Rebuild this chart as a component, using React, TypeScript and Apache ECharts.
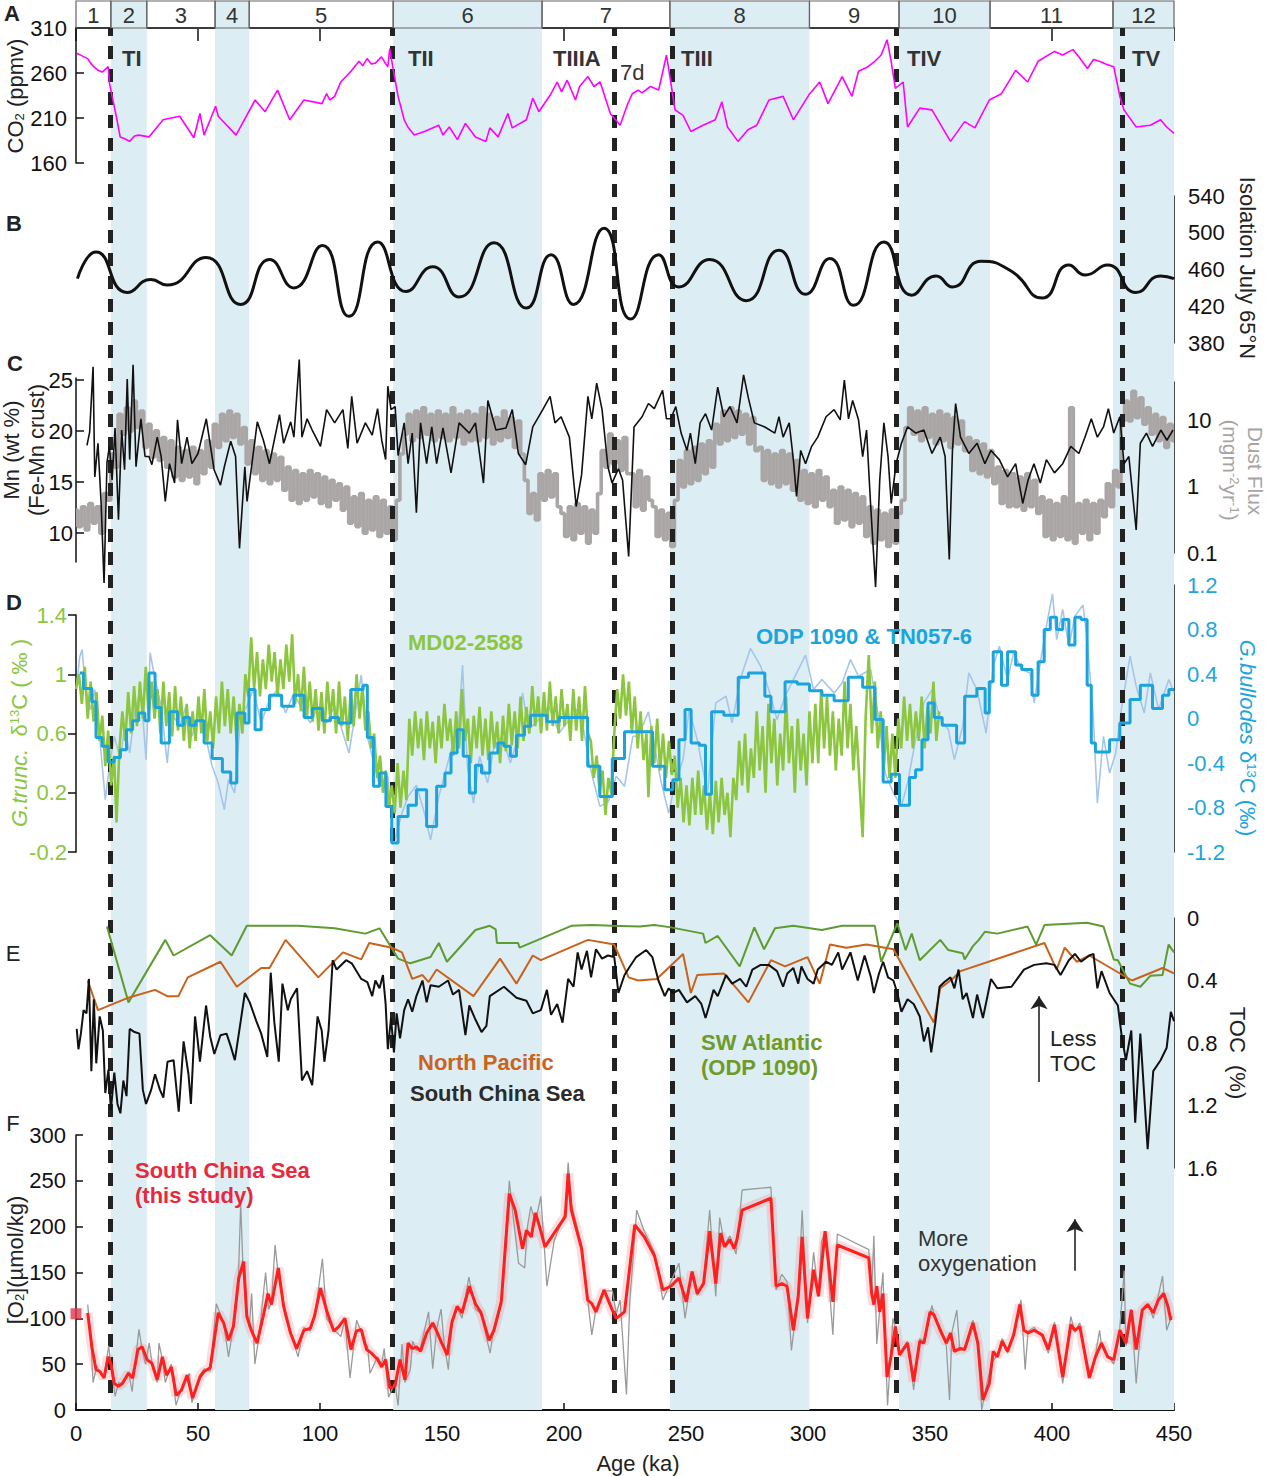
import React, { useEffect, useRef } from 'react';
import * as echarts from 'echarts';

const FONT = "'Liberation Sans', Arial, sans-serif";

// ---------- Marine isotope stages (ka) ----------
const stageBounds: number[][] = [
  [0, 14.3], [14.3, 29], [29, 57], [57, 71], [71, 130], [130, 191],
  [191, 243.4], [243.4, 300.6], [300.6, 337.3], [337.3, 374.6], [374.6, 425], [425, 450],
];
const glacialStages: number[][] = [[14.3, 29], [57, 71], [130, 191], [243.4, 300.6], [337.3, 374.6], [425, 450]];
const terminationAges: number[] = [14, 129.6, 220.6, 244.3, 336, 428.6];

// ---------- A: CO2 (ppmv) ----------
const co2: number[][] = [
  [0.3,282],[2.5,279],[4.8,276],[6,271],[7.3,267],[9,263],[10.7,261],[12,264],[13.2,267],[13.7,249],[14.8,234],[16.5,212],[18.1,189],[20,187],[22,184],[24,190],[25.7,191],[29.9,189],[35.7,208],[42.5,212],[48.3,188],[50.8,215],[52.5,191],[57.2,223],[58.3,212],[65.6,191],[73.4,230],[77.5,217],[82.6,241],[87.6,208],[93.4,230],[100.8,226],[102.7,237],[104,230],[106,234],[108.5,250],[112.7,262],[116,273],[117.5,268],[119.3,276],[121,270],[122.7,271],[125.2,278],[126.5,272],[127.8,267],[128.6,287],[129.8,267],[132,234],[134.5,208],[136,200],[138.6,191],[142.8,195],[148.7,202],[150.4,191],[153,200],[156.3,186],[159.6,204],[163.7,189],[168,184],[169.6,199],[173,189],[177,215],[178.8,199],[184.6,208],[187.2,232],[189.7,217],[194.7,237],[197.2,250],[199,239],[201.3,252],[204.7,230],[206.4,245],[209.8,256],[212.3,245],[214.8,250],[219,215],[223,202],[226,225],[228,237],[230.4,241],[232,238],[235.4,245],[238.8,241],[242,280],[243.8,249],[245.5,219],[248.8,213],[252,195],[257,202],[262,208],[264.7,228],[267,200],[271.3,184],[275.4,197],[279,202],[284,230],[289.8,234],[294,208],[300.7,237],[304.8,250],[308.2,226],[314,256],[318,234],[320.7,262],[324,266],[327.4,273],[330,280],[332.4,297],[334,274],[335.8,243],[339,250],[340.8,200],[345.8,221],[350.8,219],[358.4,184],[364.2,206],[368.4,199],[374.3,230],[379.3,237],[385.1,263],[390,250],[394.3,273],[401,284],[404.4,280],[408.6,286],[411,278],[414.5,265],[417,275],[419.4,273],[422,270],[425.3,267],[427.8,234],[429.5,219],[434.5,200],[440.3,202],[444.5,208],[447,200],[450,193]
];

// ---------- B: insolation July 65N (W/m2) ----------
const insolation: number[][] = [
  [0.6,450],[8.2,479],[21,435],[30.7,449],[37.4,443],[53.3,473],[67.5,422],[79.3,471],[89.3,440],[101,486],[111.9,409],[123.6,490],[135.3,436],[146.2,463],[157,430],[171.3,489],[184.6,418],[194.7,476],[203.9,422],[216.4,505],[227.3,406],[238.8,476],[247.1,441],[259.7,471],[274.7,426],[288.1,481],[299,433],[309,472],[318.7,421],[331.1,490],[342.5,432],[352.5,453],[359.2,441],[370.9,469],[383.4,458],[396,429],[406.9,465],[413.6,454],[422.8,465],[434.4,435],[444.5,453],[450,450]
];

// ---------- C: Mn (wt %) of Fe-Mn crust ----------
const mnCrust: number[][] = [
  [4.5,18.6],[5.6,19.9],[7,26.3],[7.7,15.5],[9,18.8],[10.3,12.9],[11.5,5.1],[12.7,16.9],[13.7,18.5],[14.8,15.2],[16,20.3],[17.4,11.3],[18.7,20.1],[19.9,16.2],[21,25.1],[22,17.2],[23.4,26.5],[24.6,16.5],[26.6,21.2],[28.3,17.5],[29.9,17.5],[31.1,16.7],[33.3,19.4],[34.9,17.5],[36.6,13.1],[38.3,16.8],[40.4,14.9],[41.6,21.1],[43.3,16.8],[45.5,19.4],[47.5,16.8],[50,17.8],[53.4,21.2],[56.6,16.2],[59.2,14.7],[60.8,16.5],[63.4,19],[65.4,17.5],[67,8.5],[69.2,16.5],[70.1,13.1],[74.3,20.9],[76.8,19.1],[79.3,16.8],[83.4,21.6],[85.1,18.8],[88,20.9],[89.3,19.4],[91.5,27],[92.6,19.4],[94.7,21.2],[96.8,20.1],[100.2,18.5],[102.7,22.1],[106,20.8],[109.4,22.1],[111.4,18.3],[113,23.4],[115.2,18.8],[118.6,20.8],[121.4,19.6],[123.6,22.2],[125.3,19.1],[126.9,17.2],[127.8,24.4],[129.1,22.1],[130.8,22.4],[132,17.6],[134.5,20.8],[136.1,16.8],[137.8,19.8],[139.5,12],[141.2,20.8],[143.7,16.8],[145.8,20.4],[147.8,16.8],[150.4,20.3],[153.7,15.9],[157,20.8],[161.2,19.8],[163.7,20.8],[167,14.9],[168.8,23],[172.1,20.1],[176.2,20.3],[178.8,22.1],[181.3,17.8],[184.3,16.7],[187.2,20.4],[191.3,22.1],[194.3,23.4],[196.3,20.8],[198.8,21.4],[202.2,19.4],[205,12.6],[207.2,15.7],[209.8,23.4],[211.4,21.2],[213.4,24.7],[215.6,22.1],[218,16.5],[219.7,14.9],[222.3,16.3],[224,15.2],[226.5,7.7],[228.7,20.4],[232,21.4],[234.6,22.7],[237,22.2],[240.4,24],[242,21.2],[243.8,21.2],[245.8,22.4],[248,19.8],[250.4,18.1],[251.8,19.8],[253.8,16.8],[255.8,20.8],[258,21.7],[260.5,20.1],[263,24.3],[265.5,21.4],[268,22.4],[270.9,20.8],[273.6,25.5],[275.6,23.2],[278,20.8],[282.3,20.4],[286.4,19.8],[288.1,21.4],[289.8,19.4],[292.3,20.8],[294,17.2],[295.3,13.6],[297,18.1],[299,16.8],[301.5,18.5],[304,19.4],[307.4,21.4],[310.7,22.1],[313.2,21.1],[314.9,25],[316.6,21.2],[318.3,23],[320.7,21.1],[322.4,17.5],[324,20.1],[325.7,12.6],[327.7,4.7],[329.4,15.2],[331.1,20.8],[332.8,17.5],[334.1,12.9],[336.1,16.8],[338.3,18.8],[340.8,20.4],[344.2,19.8],[347.5,20.1],[350.8,17.8],[354.2,19.4],[356.2,17.5],[357.9,7.4],[359.2,18.1],[360.5,22.7],[362.5,19.4],[365.9,17.8],[369.3,18.8],[372.5,16.8],[375,18.1],[378.4,17.2],[381.8,15.5],[385.1,16.8],[388,12.9],[390.2,15.2],[392.6,16.8],[395.2,14.9],[397.7,17.2],[401,15.9],[404.4,16.8],[407.7,18.5],[411,17.8],[413.5,19.4],[416.1,21.2],[418.6,19.4],[421.1,20.4],[423.1,22.2],[425.3,19.8],[427.8,21.4],[429.5,16.8],[431.5,17.5],[434.5,10.3],[436.2,18.8],[438.7,19.8],[441.2,18.5],[444.6,20.1],[447.1,19.1],[449.6,20.1]
];

// ---------- C: dust flux, log10(mg m-2 yr-1) ----------
const dustFluxLog: number[][] = [
  [0,-0.35],[1.5,-0.6],[3,-0.3],[4.5,-0.65],[6,-0.25],[7.5,-0.55],[9,-0.3],[10.5,-0.7],[12,-0.1],[13.5,-0.2],[15,0.5],[16.5,0.3],[18,1.1],[19.5,0.8],[21,1.2],[22.5,0.85],[24,1.3],[25.5,0.9],[27,1.15],[28.5,0.6],[30,0.95],[31.5,0.45],[33,0.85],[34.5,0.4],[36,0.75],[37.5,0.3],[39,0.7],[40.5,0.15],[42,0.6],[43.5,0.1],[45,0.55],[46.5,0.15],[48,0.6],[49.5,0.05],[51,0.55],[52.5,0.2],[54,0.7],[55.5,0.3],[57,0.95],[58.5,0.6],[60,1.1],[61.5,0.7],[63,1.15],[64.5,0.75],[66,1.1],[67.5,0.65],[69,0.9],[70.5,0.35],[72,0.7],[73.5,0.2],[75,0.6],[76.5,0.1],[78,0.55],[79.5,0.05],[81,0.5],[82.5,0.1],[84,0.45],[85.5,-0.05],[87,0.3],[88.5,-0.2],[90,0.25],[91.5,-0.25],[93,0.2],[94.5,-0.2],[96,0.25],[97.5,-0.15],[99,0.2],[100.5,-0.25],[102,0.15],[103.5,-0.3],[105,0.1],[106.5,-0.2],[108,0.05],[109.5,-0.35],[111,0],[112.5,-0.55],[114,-0.15],[115.5,-0.6],[117,-0.1],[118.5,-0.7],[120,-0.2],[121.5,-0.65],[123,-0.15],[124.5,-0.75],[126,-0.2],[127.5,-0.7],[129,-0.3],[130.5,-0.8],[132,-0.2],[133.5,0.5],[135,0.8],[136.5,1.1],[138,0.7],[139.5,1.15],[141,0.75],[142.5,1.2],[144,0.8],[145.5,1.1],[147,0.7],[148.5,1.15],[150,0.75],[151.5,1.1],[153,0.7],[154.5,1.2],[156,0.75],[157.5,1.1],[159,0.65],[160.5,1.15],[162,0.7],[163.5,1.1],[165,0.7],[166.5,1.2],[168,0.75],[169.5,1.1],[171,0.65],[172.5,1.05],[174,0.7],[175.5,1.15],[177,0.75],[178.5,1.05],[180,0.6],[181.5,1],[183,0.5],[184.5,0.1],[186,-0.4],[187.5,-0.1],[189,-0.5],[190.5,0.2],[192,-0.2],[193.5,0.25],[195,-0.15],[196.5,0.2],[198,-0.3],[199.5,-0.4],[201,-0.75],[202.5,-0.3],[204,-0.8],[205.5,-0.25],[207,-0.7],[208.5,-0.3],[210,-0.85],[211.5,-0.35],[213,-0.7],[214.5,-0.1],[216,0.55],[217.5,0.3],[219,0.8],[220.5,0.35],[222,0.7],[223.5,0.25],[225,0.75],[226.5,0.2],[228,0.2],[229.5,-0.3],[231,0.25],[232.5,-0.35],[234,0.15],[235.5,-0.2],[237,-0.3],[238.5,-0.75],[240,-0.35],[241.5,-0.8],[243,-0.4],[244.5,-0.9],[246,-0.2],[247.5,0.4],[249,0],[250.5,0.55],[252,0.05],[253.5,0.6],[255,0.1],[256.5,0.65],[258,0.2],[259.5,0.7],[261,0.3],[262.5,0.95],[264,0.65],[265.5,1.15],[267,0.7],[268.5,1.2],[270,0.75],[271.5,1.15],[273,0.8],[274.5,1.1],[276,0.65],[277.5,1.05],[279,0.55],[280.5,0.6],[282,0.1],[283.5,0.55],[285,0.05],[286.5,0.5],[288,0],[289.5,0.55],[291,0.05],[292.5,0.5],[294,-0.05],[295.5,0.4],[297,-0.2],[298.5,0.25],[300,-0.25],[301.5,0.2],[303,-0.3],[304.5,0.25],[306,-0.2],[307.5,0.15],[309,-0.3],[310.5,-0.05],[312,-0.55],[313.5,0],[315,-0.5],[316.5,-0.05],[318,-0.6],[319.5,-0.1],[321,-0.55],[322.5,-0.15],[324,-0.75],[325.5,-0.3],[327,-0.85],[328.5,-0.35],[330,-0.8],[331.5,-0.4],[333,-0.9],[334.5,-0.35],[336,-0.85],[337.5,-0.4],[339,-0.2],[340.5,0.9],[342,1.2],[343.5,0.8],[345,1.15],[346.5,0.7],[348,1.2],[349.5,0.75],[351,1.1],[352.5,0.65],[354,1.15],[355.5,0.7],[357,1.1],[358.5,0.6],[360,1.05],[361.5,0.65],[363,1],[364.5,0.55],[366,0.75],[367.5,0.25],[369,0.7],[370.5,0.2],[372,0.65],[373.5,0.15],[375,0.55],[376.5,0.05],[378,0.3],[379.5,-0.25],[381,0.25],[382.5,-0.3],[384,0.2],[385.5,-0.3],[387,0.15],[388.5,-0.35],[390,0.2],[391.5,-0.3],[393,0.1],[394.5,-0.4],[396,-0.15],[397.5,-0.75],[399,-0.2],[400.5,-0.8],[402,-0.25],[403.5,-0.75],[405,-0.15],[406.5,-0.8],[408,1.2],[409.5,-0.85],[411,-0.25],[412.5,-0.7],[414,-0.2],[415.5,-0.8],[417,-0.25],[418.5,-0.7],[420,-0.2],[421.5,-0.45],[423,0.05],[424.5,-0.3],[426,0.25],[427.5,0],[429,1],[430.5,1.3],[432,1],[433.5,1.45],[435,1.05],[436.5,1.35],[438,0.95],[439.5,1.2],[441,0.8],[442.5,1.1],[444,0.7],[445.5,1.05],[447,0.6],[448.5,0.95],[450,0.7]
];

// ---------- D: G. truncatulinoides d13C (permil), MD02-2588 ----------
const gTrunc13C: number[][] = [
  [0,0.9],[1.2,1],[2.4,0.8],[3.6,1.05],[4.8,0.7],[6,0.95],[7.2,0.68],[8.4,0.88],[9.6,0.55],[10.8,0.72],[12,0.38],[13.2,0.62],[14.4,0.25],[15.6,0.45],[16.6,0],[17.8,0.5],[19,0.75],[20.2,0.55],[21.4,0.88],[22.6,0.6],[23.8,0.92],[25,0.65],[26.2,0.95],[27.4,0.7],[28.6,1.05],[29.8,0.72],[31,0.95],[32.2,0.7],[33.4,0.9],[34.6,0.6],[35.8,0.95],[37,0.65],[38.2,0.88],[39.4,0.58],[40.6,0.92],[41.8,0.62],[43,0.85],[44.2,0.55],[45.4,0.8],[46.6,0.5],[47.8,0.75],[49,0.55],[50.2,0.85],[51.4,0.6],[52.6,0.9],[53.8,0.55],[55,0.75],[56.2,0.5],[57.4,0.85],[58.6,0.6],[59.8,0.95],[61,0.65],[62.2,0.9],[63.4,0.6],[64.6,0.85],[65.8,0.55],[67,0.8],[68.2,0.6],[69.4,1],[70.6,0.85],[71.8,1.25],[73,0.9],[74.2,1.15],[75.4,0.85],[76.6,1.1],[77.8,0.9],[79,1.2],[80.2,0.95],[81.4,1.15],[82.6,0.85],[83.8,1.1],[85,0.9],[86.2,1.2],[87.4,0.95],[88.6,1.27],[89.8,0.8],[91,1],[92.2,0.75],[93.4,1.05],[94.6,0.7],[95.8,0.95],[97,0.68],[98.2,0.9],[99.4,0.62],[100.6,0.88],[101.8,0.6],[103,0.95],[104.2,0.7],[105.4,0.9],[106.6,0.6],[107.8,0.95],[109,0.65],[110.2,0.85],[111.4,0.55],[112.6,0.9],[113.8,0.65],[115,1],[116.2,0.7],[117.4,0.92],[118.6,0.62],[119.8,0.75],[121,0.5],[122.2,0.6],[123.4,0.3],[124.6,0.45],[125.8,0.2],[127,0.35],[128.2,0.1],[129.4,0.25],[130.6,0.06],[131.8,0.4],[133,0.1],[134.2,0.35],[135.4,0.15],[136.6,0.7],[137.8,0.45],[139,0.75],[140.2,0.5],[141.4,0.7],[142.6,0.42],[143.8,0.75],[145,0.5],[146.2,0.68],[147.4,0.4],[148.6,0.72],[149.8,0.5],[151,0.8],[152.2,0.55],[153.4,0.7],[154.6,0.45],[155.8,0.75],[157,0.5],[158.2,0.9],[159.4,0.55],[160.6,0.7],[161.8,0.4],[163,0.72],[164.2,0.5],[165.4,0.78],[166.6,0.45],[167.8,0.7],[169,0.42],[170.2,0.75],[171.4,0.5],[172.6,0.68],[173.8,0.4],[175,0.72],[176.2,0.48],[177.4,0.8],[178.6,0.52],[179.8,0.75],[181,0.5],[182.2,0.85],[183.4,0.55],[184.6,0.78],[185.8,0.6],[187,0.92],[188.2,0.65],[189.4,0.85],[190.6,0.6],[191.8,0.88],[193,0.62],[194.2,0.95],[195.4,0.65],[196.6,0.85],[197.8,0.6],[199,0.9],[200.2,0.65],[201.4,0.8],[202.6,0.55],[203.8,0.9],[205,0.62],[206.2,0.85],[207.4,0.55],[208.6,0.92],[209.8,0.6],[211,0.55],[212.2,0.3],[213.4,0.45],[214.6,0.2],[215.8,0.35],[217,0.05],[218.2,0.3],[219.4,0.2],[220.6,0.6],[221.8,0.9],[223,0.7],[224.2,1],[225.4,0.72],[226.6,0.95],[227.8,0.6],[229,0.85],[230.2,0.5],[231.4,0.75],[232.6,0.42],[233.8,0.6],[234.6,0.17],[235.8,0.65],[237,0.4],[238.2,0.7],[239.4,0.35],[240.6,0.6],[241.8,0.3],[243,0.55],[244.2,0.32],[245.4,0.45],[246.6,0.1],[247.8,0.3],[249,0],[250.2,0.25],[251.4,-0.02],[252.6,0.3],[253.8,0.05],[255,0.35],[256.2,0.05],[257.4,0.25],[258.6,-0.05],[259.8,0.2],[261,-0.08],[262.2,0.28],[263.4,0],[264.6,0.3],[265.8,0.05],[267,0.2],[268.2,-0.1],[269.4,0.3],[270.6,0.15],[271.8,0.55],[273,0.25],[274.2,0.6],[275.4,0.2],[276.6,0.5],[277.8,0.3],[279,0.75],[280.2,0.35],[281.4,0.65],[282.6,0.2],[283.8,0.8],[285,0.4],[286.2,0.7],[287.4,0.25],[288.6,0.6],[289.8,0.35],[291,0.85],[292.2,0.4],[293.4,0.65],[294.6,0.2],[295.8,0.7],[297,0.35],[298.2,0.6],[299.4,0.25],[300.6,0.75],[301.8,0.4],[303,0.8],[304.2,0.4],[305.4,0.9],[306.6,0.5],[307.8,0.85],[309,0.45],[310.2,0.75],[311.4,0.35],[312.6,0.7],[313.8,0.45],[315,0.95],[316.2,0.5],[317.4,0.8],[318.6,0.35],[319.8,0.65],[321,0.3],[322.4,-0.1],[323.6,0.7],[324.9,1.13],[326.2,0.6],[327.4,0.95],[328.6,0.5],[329.8,0.75],[331,0.35],[332.2,0.65],[333.4,0.3],[334.6,0.6],[335.8,0.3],[337,0.7],[338.2,0.5],[339.4,0.85],[340.6,0.55],[341.8,0.8],[343,0.5],[344.2,0.75],[345.4,0.55],[346.6,0.85],[347.8,0.5],[349,0.78],[350.2,0.6],[351.4,0.95],[352.6,0.55],[353.8,0.75]
];

// ---------- D: G. bulloides d13C (permil), ODP 1090 & TN057-6 ----------
const gBullRaw13C: number[][] = [
  [0.3,0.3],[1.5,0.55],[2.5,0.62],[4,0.26],[6,0.08],[7.7,0.26],[9.8,-0.19],[12,-0.73],[13.7,-0.43],[15.7,-0.16],[18.2,-0.37],[19.9,-0.07],[22,-0.31],[24,0.05],[26.6,0.26],[28.7,-0.37],[30.4,0.59],[32.4,0.35],[34.9,0.11],[37.4,-0.4],[39.1,0.05],[42.5,-0.07],[45,0.11],[47.5,-0.16],[50.8,0.06],[53.4,-0.19],[55.8,-0.43],[58.3,-0.58],[60.8,-0.82],[62.5,-0.55],[65,-0.67],[67.5,0.02],[70,0.11],[72.6,0.26],[75.9,-0.04],[79.3,0.17],[82.6,0.26],[85.9,0.05],[89.3,0.23],[92.6,0.08],[96,-0.04],[99.3,0.11],[102.7,-0.04],[106,0.11],[111.9,-0.31],[116.9,0.39],[119.4,-0.16],[124.4,-0.61],[127.8,-0.52],[130.3,-1.12],[133.6,-0.85],[136.1,-0.7],[139.5,-0.6],[142.8,-0.85],[145.3,-1.09],[148.7,-0.7],[152,-0.43],[154.5,-0.22],[157,-0.01],[158.4,0.48],[160.4,-0.43],[162.9,-0.76],[165.4,-0.34],[168.7,-0.58],[171.3,-0.25],[174.6,-0.16],[178,-0.4],[181.3,-0.16],[183,0.23],[185.5,-0.1],[189.7,-0.01],[193.8,0.11],[198,-0.13],[202.2,-0.01],[206.4,0.11],[210.6,-0.43],[214.7,-0.79],[218.1,-0.75],[221.4,-0.52],[224.8,-0.61],[228.2,-0.16],[230.4,-0.16],[234.6,0.06],[239.6,-0.55],[242.9,-0.85],[245.5,-0.58],[248.8,-0.37],[251.3,0.08],[254.6,-0.19],[258.8,-0.67],[262.2,0.14],[266.4,0.2],[268.9,-0.04],[272.2,0.35],[276.4,0.63],[280.6,0.47],[283.9,0.26],[287.3,-0.01],[290.6,0.2],[294,0.35],[299,0.57],[302.3,0.26],[305.7,0.35],[310.7,0.23],[314,0.32],[317.4,0.53],[320.7,0.38],[325.7,0.44],[329.1,-0.01],[331.6,-0.49],[335,-0.67],[338.3,-0.79],[340.8,-0.58],[344.1,-0.19],[347.5,0.14],[350.9,0.26],[354.2,-0.01],[357.5,-0.1],[360,-0.37],[363.4,-0.07],[365.9,0.41],[369.2,0.26],[373,-0.13],[375.9,0.47],[378.4,0.65],[381.8,0.35],[384.3,0.59],[387.6,0.44],[391,0.41],[392.7,0.14],[395.2,0.5],[397.7,0.83],[400.2,1.12],[401.9,0.71],[404.4,0.98],[406.9,0.65],[409.4,0.92],[412.7,1.02],[414.4,0.71],[416.9,0.02],[418.6,-0.76],[421.1,-0.16],[423.6,-0.49],[426.1,-0.31],[428.6,0.11],[432,0.56],[434.5,0.29],[437.8,0.05],[440.3,0.41],[443.7,0.08],[447.9,0.35],[450,0.23]
];
const gBullSmooth13C: number[][] = [
  [1.5,0.41],[3.1,0.27],[6.5,0.15],[8.2,-0.17],[10.7,-0.25],[13.2,-0.39],[15.7,-0.35],[18.2,-0.28],[20.7,-0.1],[23.2,-0.02],[25.7,0.05],[28.2,-0.02],[29.9,0.41],[32.4,0.1],[34.9,-0.22],[38.3,0.06],[41.6,-0.06],[44.1,0.01],[46.6,-0.06],[49.1,-0.02],[52.5,-0.22],[55.8,-0.36],[60,-0.48],[63.4,-0.58],[65.9,0.05],[69.2,-0.04],[70.9,0.26],[73.4,-0.1],[75.9,0.08],[79.3,0.21],[84.3,0.11],[89.3,0.21],[93.5,0.01],[96.8,0.09],[101,-0.02],[104.3,0.01],[107.7,-0.04],[112.7,0.26],[117.7,0.3],[119.4,-0.17],[121.9,-0.61],[124.4,-0.49],[127,-0.79],[129.4,-1.12],[132,-0.88],[136.1,-0.78],[139.5,-0.64],[143.7,-0.97],[147.8,-0.61],[151.2,-0.49],[153.7,-0.31],[156.2,-0.1],[158.7,-0.34],[161.2,-0.67],[163.7,-0.42],[166.2,-0.49],[169.6,-0.31],[172.9,-0.22],[175.4,-0.25],[178,-0.34],[180.5,-0.15],[183.8,-0.07],[186.3,0.03],[193,-0.03],[198,0.01],[209.7,-0.43],[214.7,-0.7],[219.8,-0.36],[224.8,-0.12],[236.3,-0.43],[241.3,-0.64],[244.6,-0.55],[247.1,-0.19],[249.6,0.08],[252.1,-0.22],[255.5,-0.24],[258,-0.68],[260.5,0.06],[265.5,0.03],[271.4,0.37],[275.6,0.41],[282.3,0.2],[284.8,0.06],[290.6,0.33],[295.6,0.31],[300.6,0.25],[305.7,0.21],[310.7,0.16],[316.5,0.37],[322.4,0.28],[327.4,-0.01],[330.8,-0.57],[334.1,-0.5],[337.5,-0.78],[341.6,-0.53],[344.1,-0.46],[346.7,-0.19],[349.2,0.14],[351.7,0.01],[355,-0.06],[360.9,-0.22],[364.2,0.2],[369.2,0.27],[372.6,0.05],[374.3,0.33],[375.9,0.6],[379.3,0.3],[381.8,0.6],[385.1,0.48],[387.6,0.44],[391.8,0.21],[394.3,0.51],[396.8,0.8],[399.3,0.91],[401.9,0.8],[404.4,0.89],[406.9,0.66],[409.4,0.91],[411.9,0.89],[414.4,0.3],[416.1,-0.22],[417.8,-0.3],[423.6,-0.19],[427.8,-0.04],[432,0.17],[436.2,0.3],[441.2,0.09],[445.3,0.21],[447.9,0.26],[450,0.26]
];

// ---------- E: TOC (%) ----------
const tocSWAtlantic: number[][] = [
  [12.7,0.055],[21.5,0.54],[36.6,0.14],[40,0.24],[55,0.11],[63.8,0.24],[70,0.05],[91,0.05],[106,0.066],[118.6,0.1],[124.4,0.066],[132,0.26],[137,0.29],[145.3,0.25],[148.7,0.16],[152,0.28],[163.7,0.077],[169.6,0.05],[172,0.073],[172.5,0.16],[181.2,0.16],[181.8,0.19],[203,0.05],[211.4,0.045],[219.8,0.05],[231,0.055],[237,0.045],[243.8,0.06],[257,0.1],[258,0.16],[263,0.115],[272,0.31],[278,0.06],[282,0.2],[286.5,0.066],[294,0.05],[305.6,0.077],[314,0.05],[327.4,0.05],[330,0.28],[336.6,0.034],[340,0.205],[342.5,0.1],[345.8,0.27],[354.2,0.14],[357.5,0.205],[363.4,0.225],[364.2,0.265],[367.6,0.18],[370,0.14],[372.5,0.088],[377.6,0.1],[390,0.055],[393.5,0.17],[396.9,0.045],[414.3,0.03],[421.1,0.055],[425.3,0.265],[427,0.27],[432,0.42],[436.2,0.44],[440.3,0.37],[445.3,0.365],[447.8,0.17],[450,0.22]
];
const tocNorthPacific: number[][] = [
  [4.8,0.4],[9,0.59],[21.5,0.51],[32.4,0.46],[37.4,0.5],[42,0.5],[45.8,0.38],[59.2,0.28],[65.9,0.44],[75.9,0.32],[79.3,0.32],[85.9,0.14],[99.3,0.38],[109.4,0.22],[116.9,0.265],[120.2,0.16],[129.4,0.19],[133.6,0.22],[137.8,0.39],[142,0.365],[144.5,0.41],[147.8,0.33],[162.9,0.5],[173.8,0.26],[180.5,0.42],[187.2,0.24],[190.5,0.27],[209.8,0.14],[220.6,0.17],[226.5,0.38],[230.4,0.4],[238,0.39],[248.8,0.23],[252,0.48],[254.6,0.365],[265.5,0.355],[275.6,0.54],[284.8,0.27],[290.6,0.31],[299.8,0.25],[304.8,0.42],[309,0.17],[315.7,0.19],[324,0.17],[335,0.2],[351.6,0.67],[354.2,0.45],[359.2,0.39],[362.5,0.34],[396.9,0.16],[401.9,0.33],[405.2,0.19],[410.2,0.28],[415.3,0.24],[432.8,0.4],[445.3,0.32],[450,0.355]
];
const tocSouthChinaSea: number[][] = [
  [0.3,0.71],[1,0.84],[2,0.74],[3.1,0.59],[4.3,0.61],[5.3,0.39],[6.3,0.98],[7.3,0.52],[8.3,0.93],[9.7,0.63],[11,0.72],[12,1.12],[13.3,0.97],[14.3,1.23],[15.7,0.99],[17,1.19],[18.2,1.25],[19.4,1.04],[20.7,1.14],[22,0.71],[24,0.73],[26,0.74],[27.4,1.1],[28.7,1.19],[30.8,1.1],[32.4,1],[34.4,1.1],[35.8,1.15],[37.5,0.92],[40,0.91],[42.1,1.24],[44.1,0.79],[46.1,1],[47.1,1.19],[48.8,0.63],[50.8,0.92],[53.3,0.56],[55,0.76],[56.7,0.87],[59.2,0.75],[61.7,0.74],[63.4,0.82],[65.1,0.91],[67.5,0.66],[69.2,0.48],[71.2,0.54],[73.9,0.66],[75.9,0.74],[78.4,0.89],[79.8,0.35],[81.3,0.67],[83.1,0.92],[84.6,0.42],[86.8,0.59],[88,0.52],[90.6,0.45],[92.6,1.04],[94.7,0.98],[96.8,1.07],[99,0.63],[100.7,0.72],[101.8,0.92],[103.5,0.72],[105.2,0.27],[106.8,0.33],[110.7,0.27],[113,0.29],[116.9,0.39],[119.4,0.41],[121.4,0.5],[122.7,0.4],[124.4,0.45],[125.8,0.365],[126.9,0.55],[127.8,0.84],[129.1,0.64],[130.3,0.86],[131.4,0.61],[132.8,0.77],[134.5,0.59],[136.1,0.52],[137.8,0.6],[139.5,0.5],[142,0.4],[143.7,0.54],[145.3,0.43],[148.7,0.44],[152.5,0.4],[154.5,0.49],[157,0.46],[159.6,0.75],[161.2,0.56],[163.7,0.65],[166.2,0.73],[168.2,0.69],[169.6,0.5],[175.4,0.44],[180.5,0.51],[184.6,0.53],[187.2,0.61],[190.5,0.59],[193,0.46],[194.7,0.62],[197.2,0.55],[199.4,0.67],[201.7,0.39],[203.9,0.44],[205.6,0.22],[207.2,0.33],[209.4,0.21],[211.1,0.38],[213.1,0.2],[215.6,0.26],[218,0.24],[220.6,0.25],[222.3,0.48],[224.8,0.365],[227,0.31],[229.6,0.25],[233.7,0.205],[236.2,0.25],[238.7,0.4],[241.3,0.5],[242.9,0.45],[244.7,0.48],[247.1,0.46],[250.4,0.54],[253.8,0.5],[256.3,0.55],[258,0.64],[259.7,0.55],[261.3,0.46],[263,0.5],[266.4,0.365],[268.9,0.42],[272.2,0.39],[274.7,0.44],[277.2,0.33],[280.6,0.3],[283.9,0.3],[287.3,0.34],[289.8,0.44],[291.5,0.355],[294,0.32],[296,0.42],[297.3,0.31],[299.8,0.39],[302.3,0.42],[304,0.33],[307.4,0.28],[309.8,0.3],[312.4,0.22],[314,0.33],[317.4,0.22],[320.4,0.4],[323.2,0.24],[325.8,0.38],[327,0.48],[329.1,0.355],[330.8,0.28],[332.8,0.38],[335,0.4],[336.6,0.48],[338.3,0.6],[340.8,0.52],[343.3,0.55],[345.8,0.63],[347.5,0.79],[349.2,0.7],[350.5,0.86],[352.2,0.67],[353.9,0.44],[355.9,0.41],[358.4,0.38],[360,0.45],[361.7,0.33],[363.4,0.52],[365,0.48],[367.6,0.64],[369.3,0.49],[371.7,0.64],[375,0.39],[377.6,0.45],[383.4,0.44],[388.5,0.33],[392.7,0.3],[397.7,0.29],[401,0.3],[403.5,0.365],[406.9,0.27],[409.4,0.23],[411.9,0.28],[415.3,0.24],[417,0.23],[418.6,0.45],[420.3,0.34],[423.6,0.48],[427,0.56],[428.6,0.76],[430.3,0.91],[432.5,0.72],[434.1,1.31],[436.2,0.74],[439.2,1.48],[441.5,0.98],[444.5,0.91],[447,0.83],[448.7,0.6],[450,0.66]
];

// ---------- F: [O2] (umol/kg), South China Sea ----------
const o2Smooth: number[][] = [
  [4.8,106],[6.5,69],[8.2,44],[9.8,42],[11.5,35],[13.2,58],[14.4,49],[15.7,29],[17.4,26],[19,29],[21.5,40],[23.2,35],[24,46],[25.4,66],[27.1,69],[29.1,55],[31.1,51],[33.3,33],[35.4,58],[37.1,38],[39.1,47],[41.1,16],[43.3,22],[45.5,38],[47.8,13],[50.8,36],[52.5,42],[55,46],[58.3,106],[60.5,95],[62.5,76],[64.5,91],[66.7,144],[68.7,162],[70,102],[72,86],[74.2,73],[76.7,102],[78.7,127],[80.1,115],[82.9,155],[85.1,113],[87.9,84],[90.4,67],[93.4,87],[96,89],[97.7,102],[100.2,133],[103,106],[105.7,86],[107.7,91],[110.2,100],[112.7,66],[114.9,86],[116.9,88],[119.1,66],[121.1,62],[123.6,55],[125.3,47],[126.9,55],[128.6,24],[130.7,26],[132.8,55],[134.8,33],[136.1,73],[137.8,67],[139.5,69],[141.2,64],[143.7,84],[146.2,95],[147.8,86],[149.9,73],[152.1,60],[154.1,96],[156.2,113],[158.2,106],[161.2,135],[163.7,116],[166,106],[169.3,76],[171.3,87],[174.3,118],[177.6,236],[180,218],[183,176],[184.6,196],[186.6,189],[188.3,215],[190,200],[192.2,178],[200.5,211],[201.7,258],[203,218],[207.2,176],[209.7,120],[211.4,116],[213.1,107],[216.4,131],[219.8,109],[221.4,100],[224.8,107],[229,202],[232.9,189],[237.1,168],[240.5,131],[243.8,135],[247.1,144],[250.1,118],[252.5,151],[254.6,127],[257.2,138],[259.7,195],[262.2,138],[264.2,193],[265.8,178],[268,186],[269.7,176],[270.9,186],[273,218],[284.8,231],[286.9,135],[289.3,138],[291.4,135],[294,87],[296,124],[297.6,189],[299.8,100],[302.3,153],[304.3,124],[307,195],[310.2,118],[312,180],[324.9,166],[326.1,127],[327,115],[328.2,135],[329.4,107],[330.7,127],[332.4,36],[334,58],[335.8,91],[337.5,60],[340.8,73],[343.3,31],[345.8,75],[347.5,73],[350,107],[351.6,104],[354.2,87],[356.7,73],[358.4,84],[360,64],[362.2,67],[364.2,66],[367.6,95],[369.6,73],[371.7,11],[374.3,29],[375.9,64],[377.6,58],[379.6,75],[381.8,64],[384.3,82],[386.8,115],[388.5,87],[390.2,84],[392.6,87],[396,82],[398.5,66],[401,93],[404.4,36],[407.7,93],[409.4,87],[411.4,91],[415.3,35],[417.8,58],[420.3,73],[422.8,58],[425.3,55],[427.8,87],[430.3,73],[432.5,109],[434.5,66],[437,109],[439.2,115],[441.5,106],[443.6,120],[445.8,127],[447.5,113],[448.7,98]
];
const o2Raw: number[][] = [
  [4.8,115],[6,80],[7,30],[8.5,48],[10,40],[11.5,36],[13.4,70],[14.5,45],[16,15],[17.5,30],[19,28],[21.5,42],[23,20],[24.2,50],[25.8,88],[27.1,66],[28.5,50],[30,73],[31.5,45],[33.3,30],[34,73],[35.4,55],[36.6,30],[39,50],[41,5],[43.3,25],[45.5,35],[46.5,40],[47.5,8],[50.8,38],[52.5,45],[55,42],[57.5,116],[60.5,95],[62.5,58],[64.5,90],[66.5,140],[67.5,225],[68.5,150],[69.5,120],[71,90],[72,127],[73.3,50],[75,80],[77.7,150],[79,110],[80.1,118],[81.6,180],[83,145],[85.9,100],[88,85],[91,58],[93.4,90],[96,86],[98,105],[101,165],[102.7,100],[105.7,88],[108.5,80],[110.2,98],[112.3,35],[115,98],[116.9,85],[118,72],[119.5,70],[120.5,40],[123.6,58],[125.3,50],[126.3,67],[128.1,14],[130.7,30],[132,5],[133.6,72],[134.8,30],[137,44],[138,75],[139.5,65],[141.2,68],[144.5,107],[146.2,45],[147.8,88],[149.6,110],[151,70],[152.6,44],[154.1,98],[156.2,112],[158.2,100],[161,145],[163.7,110],[166,105],[169.7,62],[171.3,90],[174.3,120],[177.6,250],[179,215],[181.4,160],[183.9,155],[185,200],[186.4,222],[188.3,205],[190.5,233],[192,175],[193,135],[196,185],[200.5,215],[201.7,270],[203,225],[207.2,180],[209.7,120],[211.4,82],[213.1,110],[216.4,130],[219.8,130],[221.4,105],[223,120],[225.6,17],[227,120],[229.8,218],[232.9,195],[237.1,172],[240.5,120],[243.8,140],[247.1,160],[249.6,100],[252.5,150],[254.6,125],[257.2,140],[259.7,218],[262.2,124],[263.8,210],[265.8,180],[268,190],[270.5,170],[273,240],[284.8,243],[286.9,131],[289.3,148],[291.4,140],[293.2,65],[296,125],[297.6,218],[299.8,95],[302.3,172],[304.3,125],[305.5,183],[307,195],[310.2,82],[312,192],[324.9,175],[326.1,130],[327,190],[328.2,72],[329.4,110],[330.7,150],[332.6,5],[334.8,100],[335.8,90],[337.5,62],[340.8,75],[343.3,22],[345.8,78],[347.5,75],[350.8,114],[352,100],[354.2,90],[356.7,70],[358,11],[359,85],[361,109],[362.2,65],[364.2,68],[367.6,98],[369.6,70],[371.2,0],[373,25],[375.2,51],[377.6,60],[379.6,78],[381.8,62],[384.3,85],[387.3,120],[389,44],[390.2,86],[392.6,90],[396,80],[398.5,62],[401,96],[404.4,29],[407.7,102],[409.4,85],[411.4,95],[413,70],[415.8,36],[417.8,60],[419.5,87],[420.3,70],[422.8,60],[425.3,50],[427.8,90],[429.6,152],[430.3,70],[432.5,110],[434.5,29],[437,110],[439.5,116],[441.5,100],[443.6,125],[445.3,146],[447,87],[448.7,100],[449.5,102]
];
const o2Modern: number[][] = [[0, 105]];

// ---------- tick values ----------
const co2Ticks = [160, 210, 260, 310];
const insolTicks = [380, 420, 460, 500, 540];
const mnTicks = [10, 15, 20, 25];
const dustTicks = [-1, 0, 1];
const gTruncTicks = [-0.2, 0.2, 0.6, 1, 1.4];
const gBullTicks = [-1.2, -0.8, -0.4, 0, 0.4, 0.8, 1.2];
const tocTicks = [0, 0.4, 0.8, 1.2, 1.6];

const LEFT = 76, WIDTH = 1098;
const grid = (top: number, height: number) => ({ left: LEFT, width: WIDTH, top, height });
const hiddenX = (g: number) => ({ type: 'value', gridIndex: g, min: 0, max: 450, show: false, axisLine: { onZero: false } });
const hiddenY = (g: number) => ({ type: 'value', gridIndex: g, min: 0, max: 1, show: false, axisLine: { onZero: false } });
const lbl = (color: string, margin: number, customValues?: number[]) => ({
  show: true, fontFamily: FONT, fontSize: 22, color, margin, ...(customValues ? { customValues } : {}),
});
const axLine = { show: true, onZero: false, lineStyle: { color: '#111', width: 1.5 } };
const tick = (inside: boolean, length: number, customValues?: number[]) => ({
  show: true, inside, length, lineStyle: { color: '#111', width: 1.5 }, ...(customValues ? { customValues } : {}),
});
const yAx = (g: number, pos: string, min: number, max: number, ticks: number[], inside: boolean, color: string, margin: number, extra: any = {}) => ({
  type: 'value', gridIndex: g, position: pos, min, max,
  axisLine: axLine, axisTick: tick(inside, 8, ticks), axisLabel: lbl(color, margin, ticks),
  splitLine: { show: false }, ...extra,
});

const line = (g: number, data: number[][], color: string, width: number, z: number, extra: any = {}) => ({
  type: 'line', xAxisIndex: g, yAxisIndex: g, data, showSymbol: false, symbol: 'none', silent: true,
  lineStyle: { color, width }, itemStyle: { color }, z, animation: false, ...extra,
});

type TOpt = { size?: number; weight?: string; color?: string; align?: string; rot?: number; rich?: any };
const T = (x: number, y: number, text: string, o: TOpt = {}) => ({
  type: 'text', x, y, rotation: o.rot || 0, z: 100, silent: true,
  style: {
    text, fontFamily: FONT, fontSize: o.size || 22, fontWeight: o.weight || 'normal',
    fill: o.color || '#222', align: o.align || 'left', verticalAlign: 'middle', rich: o.rich,
  },
});
const richSet = (color: string, size = 22) => ({
  n: { fontFamily: FONT, fontSize: size, fill: color },
  i: { fontFamily: FONT, fontSize: size, fill: color, fontStyle: 'italic' },
  s: { fontFamily: FONT, fontSize: 13, fill: color, verticalAlign: 'bottom' },
  p: { fontFamily: FONT, fontSize: 13, fill: color, verticalAlign: 'top' },
});

function buildOption(): any {
  const grids = [
    grid(1, 1409),   // 0 background shading
    grid(1, 27),     // 1 stage boxes
    grid(28, 135),   // 2 A
    grid(196, 147),  // 3 B
    grid(378, 184),  // 4 C Mn
    grid(382, 171),  // 5 C dust
    grid(615, 237),  // 6 D trunc
    grid(585, 267),  // 7 D bulloides
    grid(918, 250),  // 8 E
    grid(1135, 275), // 9 F
    grid(28, 1365),  // 10 dashed lines
  ];
  const xAxes: any[] = grids.map((_, i) => hiddenX(i));
  xAxes[2] = {
    type: 'value', gridIndex: 2, min: 0, max: 450, interval: 50, position: 'top',
    axisLine: { show: true, onZero: false, lineStyle: { color: '#111', width: 2 } },
    axisTick: { show: true, inside: true, length: 13, lineStyle: { color: '#111', width: 1.5 } },
    axisLabel: { show: false }, splitLine: { show: false },
  };
  xAxes[9] = {
    type: 'value', gridIndex: 9, min: 0, max: 450, interval: 50, position: 'bottom',
    axisLine: { show: true, onZero: false, lineStyle: { color: '#111', width: 2 } },
    axisTick: { show: true, inside: true, length: 7, lineStyle: { color: '#111', width: 1.5 } },
    axisLabel: lbl('#111', 12), splitLine: { show: false },
  };
  const yAxes: any[] = grids.map((_, i) => hiddenY(i));
  yAxes[2] = yAx(2, 'left', 160, 310, co2Ticks, true, '#111', 9);
  yAxes[3] = yAx(3, 'right', 380, 540, insolTicks, true, '#111', 14);
  yAxes[4] = yAx(4, 'left', 7.16, 25.2, mnTicks, true, '#111', 3);
  yAxes[5] = yAx(5, 'right', -1, 1.59, dustTicks, true, '#111', 13, {
    axisLabel: { ...lbl('#111', 13, dustTicks), formatter: (v: number) => String(Math.round(Math.pow(10, v) * 10) / 10) },
  });
  yAxes[6] = yAx(6, 'left', -0.2, 1.4, gTruncTicks, false, '#8cc63f', 9);
  yAxes[7] = yAx(7, 'right', -1.2, 1.2, gBullTicks, true, '#1ea5dc', 13);
  yAxes[8] = yAx(8, 'right', 0, 1.6, tocTicks, true, '#111', 13, { inverse: true });
  yAxes[9] = {
    type: 'value', gridIndex: 9, position: 'left', min: 0, max: 300, interval: 50,
    axisLine: axLine, axisTick: tick(true, 7), axisLabel: lbl('#111', 10), splitLine: { show: false },
  };

  const series: any[] = [
    {
      type: 'line', xAxisIndex: 0, yAxisIndex: 0, data: [[0, -5]], symbol: 'none', silent: true, z: 0,
      lineStyle: { width: 0, opacity: 0 },
      markArea: {
        silent: true, itemStyle: { color: '#ddedf4' },
        data: glacialStages.map(([s, e]) => [{ xAxis: s }, { xAxis: e }]),
      },
    },
    {
      type: 'line', xAxisIndex: 10, yAxisIndex: 10, data: [[0, -5]], symbol: 'none', silent: true, z: 1,
      lineStyle: { width: 0, opacity: 0 },
      markLine: {
        silent: true, symbol: 'none', label: { show: false },
        lineStyle: { color: '#222', width: 5, type: [13, 10] },
        data: terminationAges.map((a) => ({ xAxis: a })),
      },
    },
    {
      type: 'custom', xAxisIndex: 1, yAxisIndex: 1, silent: true, z: 2,
      data: stageBounds.map(([s, e], i) => [s, e, i + 1]),
      encode: { x: [0, 1] },
      renderItem: (params: any, api: any) => {
        const s = api.value(0), e = api.value(1), n = api.value(2);
        const a = api.coord([s, 1]);
        const b = api.coord([e, 0]);
        return {
          type: 'group',
          children: [
            { type: 'rect', shape: { x: a[0], y: a[1], width: b[0] - a[0], height: b[1] - a[1] },
              style: { fill: 'transparent', stroke: '#666', lineWidth: 1.2 } },
            { type: 'text', x: (a[0] + b[0]) / 2, y: (a[1] + b[1]) / 2 + 1,
              style: { text: String(n), align: 'center', verticalAlign: 'middle', fontFamily: FONT, fontSize: 22, fill: '#333' } },
          ],
        };
      },
    },
    line(2, co2, '#ff00ff', 1.6, 5),
    line(3, insolation, '#111', 3, 5, { smooth: 0.55 }),
    line(5, dustFluxLog, '#aaa6a6', 3.6, 4, { step: 'middle' }),
    line(4, mnCrust, '#111', 1.6, 5, { clip: false }),
    line(7, gBullRaw13C, '#a5c5e9', 1.6, 4),
    line(6, gTrunc13C, '#8cc63f', 2.6, 5),
    line(7, gBullSmooth13C, '#1ba3dd', 3, 6, { step: 'end' }),
    line(8, tocSWAtlantic, '#5e9b30', 2, 5),
    line(8, tocNorthPacific, '#c9621b', 2, 5),
    line(8, tocSouthChinaSea, '#111', 2, 6, {
      markLine: {
        silent: true, symbol: ['none', 'arrow'], symbolSize: 13, label: { show: false },
        lineStyle: { color: '#222', width: 1.6, type: 'solid' },
        data: [[{ coord: [394.7, 1.05] }, { coord: [394.7, 0.5] }]],
      },
    }),
    line(9, o2Smooth, 'rgba(236,160,160,0.35)', 10, 4),
    line(9, o2Raw, '#9a9a9a', 1.3, 5),
    line(9, o2Smooth, '#ff1f1f', 3, 6, {
      markLine: {
        silent: true, symbol: ['none', 'arrow'], symbolSize: 13, label: { show: false },
        lineStyle: { color: '#222', width: 1.6, type: 'solid' },
        data: [[{ coord: [409.4, 152] }, { coord: [409.4, 208] }]],
      },
    }),
    {
      type: 'scatter', xAxisIndex: 9, yAxisIndex: 9, data: o2Modern, symbol: 'rect', symbolSize: 11,
      itemStyle: { color: '#e0384c' }, clip: false, silent: true, z: 10,
    },
  ];

  const graphics: any[] = [
    // panel letters
    T(12, 13, 'A', { weight: 'bold', align: 'center' }),
    T(14, 223, 'B', { weight: 'bold', align: 'center' }),
    T(15, 363, 'C', { weight: 'bold', align: 'center' }),
    T(14, 602, 'D', { weight: 'bold', align: 'center' }),
    T(13, 953, 'E', { align: 'center' }),
    T(13, 1123, 'F', { align: 'center' }),
    // terminations
    T(122, 58, 'TI', { weight: 'bold', color: '#333' }),
    T(408, 58, 'TII', { weight: 'bold', color: '#333' }),
    T(553, 58, 'TIIIA', { weight: 'bold', color: '#333' }),
    T(620, 72, '7d', { color: '#333' }),
    T(681, 58, 'TIII', { weight: 'bold', color: '#333' }),
    T(907, 58, 'TIV', { weight: 'bold', color: '#333' }),
    T(1132, 58, 'TV', { weight: 'bold', color: '#333' }),
    // axis titles
    T(15, 96, '{n|CO}{s|2}{n| (ppmv)}', { align: 'center', rot: Math.PI / 2, rich: richSet('#222') }),
    T(1247, 268, 'Isolation July 65°N', { align: 'center', rot: -Math.PI / 2 }),
    T(11, 450, 'Mn (wt %)', { align: 'center', rot: Math.PI / 2 }),
    T(36, 450, '(Fe-Mn crust)', { align: 'center', rot: Math.PI / 2 }),
    T(1255, 471, 'Dust Flux', { align: 'center', rot: -Math.PI / 2, color: '#a8a4a4', size: 21 }),
    T(1230, 470, '{n|(mgm}{p|-2}{n|yr}{p|-1}{n|)}', { align: 'center', rot: -Math.PI / 2, rich: richSet('#a8a4a4', 21) }),
    T(19, 733, '{i|G.trunc.}{n|  δ}{p|13}{n|C ( ‰ )}', { align: 'center', rot: Math.PI / 2, rich: richSet('#8cc63f') }),
    T(1247, 738, '{i|G.bullodes}{n| δ}{p|13}{n|C (‰)}', { align: 'center', rot: -Math.PI / 2, rich: richSet('#1ea5dc') }),
    T(1237, 1053, 'TOC  (%)', { align: 'center', rot: -Math.PI / 2 }),
    T(15, 1260, '{n|[O}{s|2}{n|](µmol/kg)}', { align: 'center', rot: Math.PI / 2, rich: richSet('#222') }),
    T(638, 1463, 'Age (ka)', { align: 'center' }),
    // in-plot labels
    T(408, 642, 'MD02-2588', { weight: 'bold', color: '#8cc63f' }),
    T(756, 636, 'ODP 1090 & TN057-6', { weight: 'bold', color: '#1aa5dc' }),
    T(418, 1062, 'North Pacific', { weight: 'bold', color: '#c8641e' }),
    T(410, 1093, 'South China Sea', { weight: 'bold', color: '#2b2b2b' }),
    T(701, 1042, 'SW Atlantic', { weight: 'bold', color: '#6e9b28' }),
    T(701, 1067, '(ODP 1090)', { weight: 'bold', color: '#6e9b28' }),
    T(1050, 1038, 'Less', { color: '#222' }),
    T(1050, 1063, 'TOC', { color: '#222' }),
    T(135, 1170, 'South China Sea', { weight: 'bold', color: '#e8283c' }),
    T(135, 1195, '(this study)', { weight: 'bold', color: '#e8283c' }),
    T(918, 1238, 'More', { color: '#333' }),
    T(918, 1263, 'oxygenation', { color: '#333' }),
  ];

  return {
    animation: false,
    backgroundColor: '#ffffff',
    grid: grids,
    xAxis: xAxes,
    yAxis: yAxes,
    series,
    graphic: { elements: graphics },
  };
}

export default function App() {
  const ref = useRef<HTMLDivElement>(null);
  useEffect(() => {
    if (!ref.current) return;
    const chart = echarts.init(ref.current, null, { renderer: 'svg' });
    chart.setOption(buildOption());
    return () => chart.dispose();
  }, []);
  return (
    <div
      ref={ref}
      style={{ position: 'absolute', left: 0, top: 0, width: 1269, height: 1476, background: '#fff' }}
    />
  );
}
